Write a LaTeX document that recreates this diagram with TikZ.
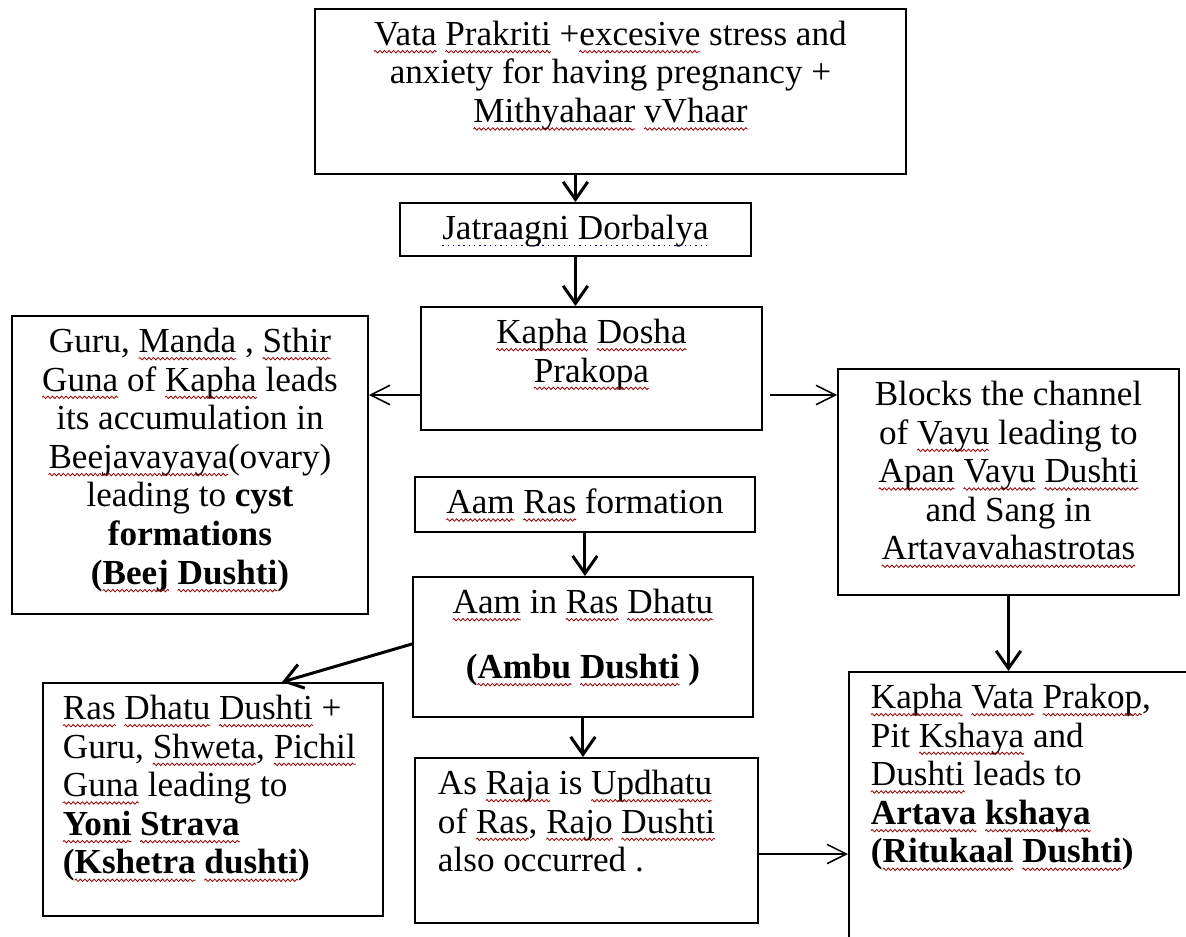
\documentclass[tikz,border=0pt]{standalone}
\usepackage{fontspec}
\setmainfont{Liberation Serif}
\usepackage{xcolor}
\usepackage{tikz}
\usetikzlibrary{arrows.meta,calc,decorations.pathmorphing}

\newlength{\pxlen}
\setlength{\pxlen}{0.02cm}
% spell-check and grammar marks under words
\newcommand{\spell}[1]{\tikz[baseline=(w.base), x=1pt, y=1pt]{%
  \node[anchor=base west, inner sep=0pt, outer sep=0pt, text=black] (w) {#1};
  \draw[overlay, red!60!black, line width=0.45pt, decorate,
    decoration={zigzag, amplitude=0.7pt, segment length=2.6pt}]
    ([yshift=-3.6pt]w.base west) -- ([yshift=-3.6pt]w.base east);}}
\newcommand{\gram}[1]{\tikz[baseline=(w.base), x=1pt, y=1pt]{%
  \node[anchor=base west, inner sep=0pt, outer sep=0pt, text=black] (w) {#1};
  \draw[overlay, blue!35!black, line width=0.8pt, dash pattern=on 0.8pt off 2.2pt]
    ([yshift=-3.6pt]w.base west) -- ([yshift=-3.6pt]w.base east);}}
\newcommand{\boxtext}[3]{\begin{minipage}[t][#2\pxlen][t]{#1\pxlen}\fontsize{20}{22}\selectfont\vspace*{12\pxlen}#3\end{minipage}}

\tikzset{
  box/.style={draw=black, line width=1.1pt, inner sep=0pt, anchor=north west},
  bigarrow/.style={line width=1.7pt, -{Straight Barb[length=10pt,width=14pt]}},
  thinarrow/.style={line width=0.85pt, -{Straight Barb[length=11pt,width=11pt]}}
}

\begin{document}
\begin{tikzpicture}[x=0.02cm, y=-0.02cm]
\useasboundingbox (0,0) rectangle (1186,936);
\fill[white] (0,0) rectangle (1186,936);
\clip (0,0) rectangle (1186,936);

% boxes
\node[box] (top) at (314,8) {\boxtext{591}{165}{\centering
  \spell{Vata} \spell{Prakriti} +\spell{excesive} stress and\\
  anxiety for having pregnancy +\\
  \spell{Mithyahaar} \spell{vVhaar}}};
\node[box] (jatra) at (399,202) {\boxtext{351}{53}{\centering
  \gram{Jatraagni Dorbalya}}};
\node[box] (kapha) at (420,306) {\boxtext{341}{123}{\centering
  \spell{Kapha} \spell{Dosha}\\
  \spell{Prakopa}}};
\node[box] (guru) at (11,315) {\boxtext{356}{298}{\centering
  Guru, \spell{Manda} , \spell{Sthir}\\
  \spell{Guna} of \spell{Kapha} leads\\
  its accumulation in\\
  \spell{Beejavayaya}(ovary)\\
  leading to \textbf{cyst}\\
  \textbf{formations}\\
  \textbf{(\spell{Beej} \spell{Dushti})}}};
\node[box] (blocks) at (837,368) {\boxtext{341}{226}{\centering
  Blocks the channel\\
  of \spell{Vayu} leading to\\
  \spell{Apan} \spell{Vayu} \spell{Dushti}\\
  and Sang in\\
  \spell{Artavavahastrotas}}};
\node[box] (aamras) at (414,476) {\boxtext{340}{55}{\centering
  \spell{Aam} \spell{Ras} formation}};
\node[box] (aamin) at (412,576) {\boxtext{340}{140}{\centering
  \spell{Aam} in \spell{Ras} \spell{Dhatu}\\[15pt]
  \textbf{(\spell{Ambu} \spell{Dushti} )}}};
\node[box] (rasdhatu) at (42,682) {\boxtext{340}{233}{\raggedright\leftskip=20\pxlen
  \spell{Ras} \spell{Dhatu} \spell{Dushti} +\\
  Guru, \spell{Shweta}, \spell{Pichil}\\
  \spell{Guna} leading to\\
  \textbf{\spell{Yoni} \spell{Strava}}\\
  \textbf{(\spell{Kshetra} \spell{dushti})}}};
\node[box] (asraja) at (414,757) {\boxtext{343}{165}{\raggedright\leftskip=23\pxlen
  As \spell{Raja} is \spell{Updhatu}\\
  of \spell{Ras}, \spell{Rajo} \spell{Dushti}\\
  also occurred .}};
\node[box] (kvata) at (848,671) {\boxtext{400}{320}{\raggedright\leftskip=22\pxlen
  \spell{Kapha} \spell{Vata} \spell{Prakop},\\
  Pit \spell{Kshaya} and\\
  \spell{Dushti} leads to\\
  \textbf{\spell{Artava} \spell{kshaya}}\\
  \textbf{(\spell{Ritukaal} \spell{Dushti})}}};

% arrows
\draw[bigarrow] (top.south -| jatra.north) -- (jatra.north);
\draw[bigarrow] (jatra.south) -- (jatra.south |- kapha.north);
\coordinate (kl) at ($(kapha.north west)+(0,89)$);
\coordinate (kr) at ($(kapha.north east)+(0,89)$);
\draw[thinarrow] (kl) -- (kl -| guru.east);
\draw[thinarrow, shorten <=0.14cm] (kr) -- (kr -| blocks.west);
\draw[bigarrow] (aamras.south) -- (aamras.south |- aamin.north);
\draw[bigarrow] ($(aamin.north west)+(0,68)$) -- ($(rasdhatu.north west)+(240,0)$);
\draw[bigarrow] (aamin.south) -- (aamin.south |- asraja.north);
\draw[bigarrow] (blocks.south) -- (blocks.south |- kvata.north);
\coordinate (ar) at ($(asraja.north east)+(0,97)$);
\draw[thinarrow] (ar) -- (ar -| kvata.west);
\end{tikzpicture}
\end{document}
